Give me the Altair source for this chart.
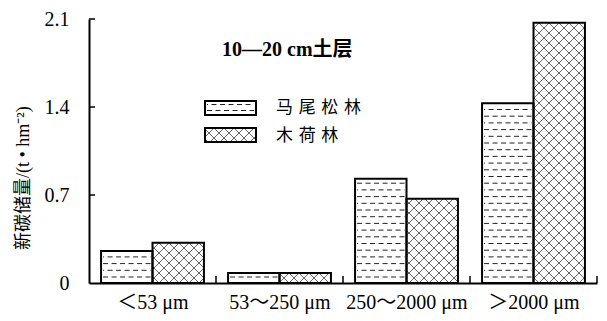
import json
import numpy as np
import pandas as pd
import altair as alt

# ---------------- data ----------------
categories = ["＜53 μm", "53～250 μm", "250～2000 μm", "＞2000 μm"]
series = ["马尾松林", "木荷林"]
pinus = [0.255, 0.08, 0.83, 1.43]     # 马尾松林
schima = [0.32, 0.08, 0.67, 2.07]     # 木荷林
y_ticks = [0, 0.7, 1.4, 2.1]
annotation = "10—20 cm土层"
y_title = "新碳储量/(t • hm⁻²)"

# ---------------- layout ----------------
W, H = 508, 264
XMAX, YMAX = 4.0, 2.1
PX = W / XMAX          # pixels per x unit
PY = H / YMAX          # pixels per y unit
PAD = {"left": 89, "top": 19, "right": 10, "bottom": 38}
SERIF = "Liberation Serif, 'Noto Sans CJK SC'"
CJK = "'Noto Sans CJK SC', Liberation Serif"

BAR_W = 0.405
GAP = 0.095

xs = alt.Scale(domain=[0, XMAX], nice=False, zero=False)
ys = alt.Scale(domain=[0, YMAX], nice=False, zero=False)


def px_x(p):
    return (p - PAD["left"]) / PX


def px_y(p):
    return (PAD["top"] + H - p) / PY


def dash_rows(x0, x1, y0, y1, spacing=6.7, first=6.0):
    rows = []
    v = y0 * PY + first
    k = 0
    while v < y1 * PY - 1.5:
        rows.append(dict(x=x0 + 2 / PX, x2=x1 - 2 / PX, y=v / PY, parity=k % 2))
        v += spacing
        k += 1
    return rows


def cross_rows(x0, x1, y0, y1, period=10.0):
    u0, u1, v0, v1 = x0 * PX, x1 * PX, y0 * PY, y1 * PY
    segs = []
    # slope +1 : v = u + c
    k = np.ceil((v0 - u1) / period)
    while k * period <= v1 - u0:
        c = k * period
        a, b = max(u0, v0 - c), min(u1, v1 - c)
        if b - a > 0.6:
            segs.append((a, a + c, b, b + c))
        k += 1
    # slope -1 : v = -u + c
    k = np.ceil((u0 + v0) / period)
    while k * period <= u1 + v1:
        c = k * period
        a, b = max(u0, c - v1), min(u1, c - v0)
        if b - a > 0.6:
            segs.append((a, c - a, b, c - b))
        k += 1
    return [dict(x=a / PX, y=b / PY, x2=c / PX, y2=d / PY) for a, b, c, d in segs]


# bars
bar_rows, dash_data, cross_data = [], [], []
for i, cat in enumerate(categories):
    for s, vals in enumerate([pinus, schima]):
        x0 = i + GAP + s * BAR_W
        x1 = x0 + BAR_W
        bar_rows.append(dict(category=cat, series=series[s], x0=x0, x1=x1, y0=0.0, v=vals[i]))
        if s == 0:
            dash_data += dash_rows(x0, x1, 0.0, vals[i])
        else:
            cross_data += cross_rows(x0, x1, 0.0, vals[i])

# legend boxes
LX0, LX1 = px_x(205), px_x(256)
leg_boxes = [
    dict(series=series[0], x0=LX0, x1=LX1, y0=px_y(115), v=px_y(101)),
    dict(series=series[1], x0=LX0, x1=LX1, y0=px_y(142), v=px_y(128)),
]
dash_data += dash_rows(LX0, LX1, leg_boxes[0]["y0"], leg_boxes[0]["v"], first=4.5, spacing=6.0)
cross_data += cross_rows(LX0, LX1, leg_boxes[1]["y0"], leg_boxes[1]["v"])

df_bars = pd.DataFrame(bar_rows + leg_boxes)
df_dash = pd.DataFrame(dash_data)
df_cross = pd.DataFrame(cross_data)

sp = "\u2004"
df_leg_text = pd.DataFrame([
    dict(x=px_x(276), y=px_y(108), t=sp.join(series[0])),
    dict(x=px_x(276), y=px_y(135.5), t=sp.join(series[1])),
])
df_ann = pd.DataFrame([dict(x=px_x(222), y=px_y(50), t=annotation)])
df_title = pd.DataFrame([dict(x=px_x(24), y=px_y(250), t=y_title)])
df_xt = pd.DataFrame(dict(x=[1.0, 2.0, 3.0, 4.0], y=0.0, y2=7 / PY))
df_yt = pd.DataFrame(dict(y=y_ticks[1:], x=0.0, x2=6 / PX))

label_expr = json.dumps(categories, ensure_ascii=False) + "[round(datum.value - 0.5)]"

x_axis = alt.Axis(values=[0.5, 1.5, 2.5, 3.5], labelExpr=label_expr, ticks=False,
                  grid=False, domainColor="black", domainWidth=2, labelPadding=9,
                  labelFont=SERIF, labelFontSize=20, labelColor="black", title=None)
y_axis = alt.Axis(values=y_ticks, format=".1~f", ticks=False, grid=False,
                  domainColor="black", domainWidth=2, labelPadding=20,
                  labelFont=SERIF, labelFontSize=20, labelColor="black", title=None)


def X(f):
    return alt.X(f, scale=xs, axis=x_axis)


def Y(f):
    return alt.Y(f, scale=ys, axis=y_axis)


fills = alt.Chart(df_bars).mark_rect(fill="white").encode(
    x=X("x0:Q"), x2="x1:Q", y=Y("y0:Q"), y2="v:Q")

dash_even = alt.Chart(df_dash).transform_filter("datum.parity == 0").mark_rule(
    stroke="#222", strokeWidth=1, strokeDash=[5, 3.5]).encode(
    x=X("x:Q"), x2="x2:Q", y=Y("y:Q"))
dash_odd = alt.Chart(df_dash).transform_filter("datum.parity == 1").mark_rule(
    stroke="#222", strokeWidth=1, strokeDash=[5, 3.5], strokeDashOffset=4).encode(
    x=X("x:Q"), x2="x2:Q", y=Y("y:Q"))

cross = alt.Chart(df_cross).mark_rule(stroke="#555", strokeWidth=0.9).encode(
    x=X("x:Q"), x2="x2:Q", y=Y("y:Q"), y2="y2:Q")

outline = alt.Chart(df_bars).mark_rect(fill="white", fillOpacity=0, stroke="black",
                                       strokeWidth=2).encode(
    x=X("x0:Q"), x2="x1:Q", y=Y("y0:Q"), y2="v:Q")

xticks = alt.Chart(df_xt).mark_rule(stroke="black", strokeWidth=1.5).encode(
    x=X("x:Q"), y=Y("y:Q"), y2="y2:Q")
yticks = alt.Chart(df_yt).mark_rule(stroke="black", strokeWidth=1.5).encode(
    y=Y("y:Q"), x=X("x:Q"), x2="x2:Q")

leg_text = alt.Chart(df_leg_text).mark_text(align="left", baseline="middle", font=CJK,
                                            fontSize=17, color="black").encode(
    x=X("x:Q"), y=Y("y:Q"), text="t:N")
ann_text = alt.Chart(df_ann).mark_text(align="left", baseline="middle", font=SERIF,
                                       fontSize=20, fontWeight="bold", color="black").encode(
    x=X("x:Q"), y=Y("y:Q"), text="t:N")
title_text = alt.Chart(df_title).mark_text(align="left", baseline="middle", font=SERIF,
                                           fontSize=18, angle=270, color="black").encode(
    x=X("x:Q"), y=Y("y:Q"), text="t:N")

chart = alt.layer(fills, dash_even, dash_odd, cross, outline, xticks, yticks,
                  leg_text, ann_text, title_text).properties(
    width=W, height=H, padding=PAD, autosize="none", background="white"
).configure_view(stroke=None)

chart.save("out.html", embed_options={"renderer": "svg", "actions": False})
